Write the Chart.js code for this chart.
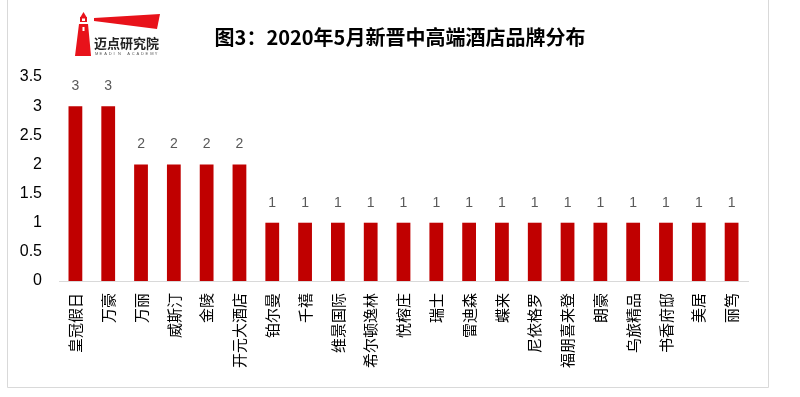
<!DOCTYPE html>
<html><head><meta charset="utf-8">
<script src="https://cdn.jsdelivr.net/npm/chart.js@4"></script>
<style>html,body{margin:0;padding:0;background:#fff}#wrap{width:800px;height:397px;position:relative}</style>
</head><body><div id="wrap"><canvas id="c" width="800" height="397"></canvas></div>
<script>
const categories = ['皇冠假日','万豪','万丽','威斯汀','金陵','开元大酒店','铂尔曼','千禧','维景国际','希尔顿逸林','悦榕庄','瑞士','雷迪森','蝶来','尼依格罗','福朋喜来登','朗豪','乌旅精品','书香府邸','美居','丽笃'];
const values = [3,3,2,2,2,2,1,1,1,1,1,1,1,1,1,1,1,1,1,1,1];
const yTicks = [0,0.5,1,1.5,2,2.5,3,3.5];
const titleText = '图3：2020年5月新晋中高端酒店品牌分布';

const decor = {
  id: 'decor',
  beforeDraw(chart) {
    const ctx = chart.ctx;
    ctx.save();
    ctx.fillStyle = '#fff';
    ctx.fillRect(0, 0, 800, 397);
    // border
    ctx.strokeStyle = '#d9d9d9';
    ctx.lineWidth = 1;
    ctx.beginPath();
    ctx.moveTo(7.5, 0); ctx.lineTo(7.5, 387.5); ctx.lineTo(768.5, 387.5); ctx.lineTo(768.5, 0);
    ctx.stroke();
    // logo lighthouse
    ctx.fillStyle = '#e8121a';
    ctx.beginPath();
    ctx.moveTo(83.5, 12); ctx.lineTo(86.5, 17); ctx.lineTo(80.5, 17); ctx.closePath(); ctx.fill();
    ctx.fillRect(80, 17, 7, 5);
    ctx.beginPath();
    ctx.moveTo(79, 24); ctx.lineTo(88, 24); ctx.lineTo(91, 56); ctx.lineTo(75, 56); ctx.closePath(); ctx.fill();
    ctx.fillStyle = '#fff';
    ctx.fillRect(82, 18.5, 3, 2.5);
    ctx.fillRect(82.5, 27, 2, 4);
    // flag
    ctx.fillStyle = '#e8121a';
    ctx.beginPath();
    ctx.moveTo(94, 18); ctx.lineTo(160, 14); ctx.lineTo(157, 29); ctx.lineTo(94, 21); ctx.closePath(); ctx.fill();
    ctx.fillStyle = '#222';
    ctx.font = 'bold 13px "Noto Sans CJK SC"';
    ctx.textBaseline = 'alphabetic';
    ctx.textAlign = 'left';
    ctx.fillText('迈点研究院', 94, 48);
    ctx.font = '4px "Liberation Sans"';
    ctx.fillStyle = '#555';
    const tiny = 'MEADIN ACADEMY';
    for (let i = 0; i < tiny.length; i++) ctx.fillText(tiny[i], 95 + i * 4.6, 55);
    // title
    ctx.fillStyle = '#000';
    ctx.font = 'bold 20px "Noto Sans CJK SC"';
    ctx.textAlign = 'center';
    ctx.textBaseline = 'middle';
    ctx.fillText(titleText, 400, 37);
    ctx.restore();
  },
  afterDatasetsDraw(chart) {
    const ctx = chart.ctx;
    const meta = chart.getDatasetMeta(0);
    ctx.save();
    ctx.fillStyle = '#595959';
    ctx.font = '14px "Liberation Sans"';
    ctx.textAlign = 'center';
    ctx.textBaseline = 'middle';
    meta.data.forEach((el, i) => {
      ctx.fillText(String(values[i]), el.x, el.y - 20);
    });
    ctx.restore();
  }
};

new Chart(document.getElementById('c'), {
  type: 'bar',
  data: {
    labels: categories,
    datasets: [{ data: values, backgroundColor: '#C00000', borderWidth: 0, categoryPercentage: 1, barPercentage: 0.42 }]
  },
  options: {
    responsive: false,
    animation: false,
    devicePixelRatio: 1,
    layout: { padding: { top: 77, right: 52, left: 0, bottom: 0 } },
    plugins: { legend: { display: false }, tooltip: { enabled: false }, title: { display: false } },
    scales: {
      x: {
        grid: { display: false, drawTicks: false },
        border: { display: true, color: '#d9d9d9', width: 1 },
        ticks: { color: '#000', font: { family: '"Noto Sans CJK SC"', size: 15 }, minRotation: 90, maxRotation: 90, padding: 12, autoSkip: false },
        afterFit(s) { s.height = 116; }
      },
      y: {
        min: 0, max: 3.5,
        grid: { display: false, drawTicks: false },
        border: { display: false },
        afterBuildTicks(s) { s.ticks = yTicks.map(v => ({ value: v })); },
        ticks: { color: '#000', font: { family: '"Liberation Sans"', size: 16 }, padding: 17, callback: v => String(v) },
        afterFit(s) { s.width = 59; }
      }
    }
  },
  plugins: [decor]
});
</script></body></html>
